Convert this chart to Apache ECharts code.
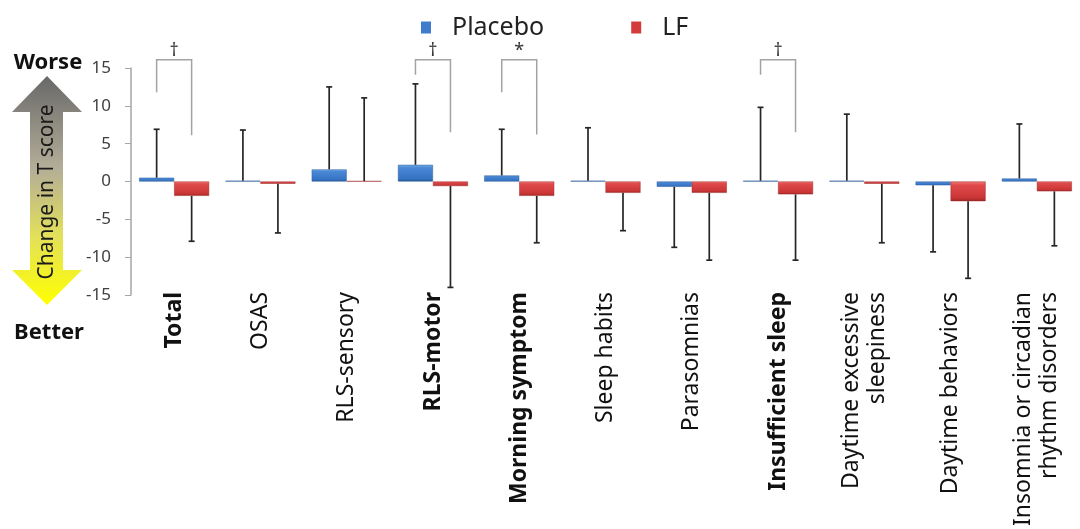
<!DOCTYPE html>
<html>
<head>
<meta charset="utf-8">
<title>Change in T score</title>
<script src="https://cdn.jsdelivr.net/npm/echarts@6/dist/echarts.min.js"></script>
<style>
	html, body { margin: 0; padding: 0; background: #fff; }
	#chart { width: 1080px; height: 529px; }
</style>
</head>
<body>
<div id="chart"></div>
<script>
	var categories = ['Total', 'OSAS', 'RLS-sensory', 'RLS-motor', 'Morning symptom', 'Sleep habits',
		'Parasomnias', 'Insufficient sleep', 'Daytime excessive\nsleepiness', 'Daytime behaviors',
		'Insomnia or circadian\nrhythm disorders'];
	var boldCats = ['Total', 'RLS-motor', 'Morning symptom', 'Insufficient sleep'];

	// mean change in T score and SD (error bar length)
	var placeboMean = [0.5, 0.1, 1.6, 2.2, 0.8, 0.1, -0.7, 0.1, 0.1, -0.5, 0.4];
	var placeboSD = [6.4, 6.7, 10.9, 10.7, 6.1, 7.0, 8.0, 9.7, 8.8, 8.8, 7.2];
	var lfMean = [-1.9, -0.3, 0.05, -0.6, -1.9, -1.5, -1.5, -1.7, -0.3, -2.6, -1.3];
	var lfSD = [6.0, 6.5, 11.0, 13.4, 6.2, 5.0, 8.9, 8.7, 7.8, 10.2, 7.2];

	// significance brackets: category index, mark, left leg end, right leg end, top
	var sigIndex = [0, 3, 4, 7];
	var sigMark = ['†', '†', '*', '†'];
	var sigLeft = [11.8, 14.1, 11.8, 14.1];
	var sigRight = [6.1, 6.5, 6.2, 6.5];
	var sigTop = [16.1, 16.1, 16.1, 16.1];

	var yTicks = { min: -15, max: 15, interval: 5 };

	var FONT = 'Noto Sans';
	var BAR_W = 35;

	var blueFill = new echarts.graphic.LinearGradient(0, 0, 0, 1, [
		{ offset: 0, color: '#74aae8' },
		{ offset: 0.18, color: '#4a88d6' },
		{ offset: 0.85, color: '#3572c2' },
		{ offset: 1, color: '#24538f' }
	]);
	var redFill = new echarts.graphic.LinearGradient(0, 0, 0, 1, [
		{ offset: 0, color: '#f07c7c' },
		{ offset: 0.18, color: '#e04a4a' },
		{ offset: 0.85, color: '#c93434' },
		{ offset: 1, color: '#942424' }
	]);

	function errRender(offset) {
		return function(params, api) {
			var i = api.value(0), m = api.value(1), s = api.value(2);
			var end = m >= 0 ? m + s : m - s;
			var p0 = api.coord([i, m]);
			var p1 = api.coord([i, end]);
			var x = p0[0] + offset;
			var st = { stroke: '#262626', lineWidth: 1.7 };
			return {
				type: 'group',
				children: [
					{ type: 'line', shape: { x1: x, y1: p0[1], x2: x, y2: p1[1] }, style: st },
					{ type: 'line', shape: { x1: x - 3, y1: p1[1], x2: x + 3, y2: p1[1] }, style: st }
				]
			};
		};
	}

	function sigRender(params, api) {
		var i = api.value(0);
		var xc = api.coord([i, 0])[0];
		var xl = xc - BAR_W / 2, xr = xc + BAR_W / 2;
		var yl = api.coord([i, api.value(1)])[1];
		var yr = api.coord([i, api.value(2)])[1];
		var yt = api.coord([i, api.value(3)])[1];
		return {
			type: 'group',
			children: [
				{ type: 'polyline', shape: { points: [[xl, yl], [xl, yt], [xr, yt], [xr, yr]] },
					style: { stroke: '#a3a3a3', lineWidth: 1.5, fill: null } },
				{ type: 'text', x: xc, y: yt,
					style: { text: sigMark[params.dataIndex], fontSize: 18, fontFamily: FONT,
						fill: '#333', align: 'center', verticalAlign: 'bottom' } }
			]
		};
	}

	var chart = echarts.init(document.getElementById('chart'));

	var option = {
		animation: false,
		textStyle: { fontFamily: FONT },
		legend: {
			left: 416,
			top: 10,
			icon: 'rect',
			itemWidth: 10,
			itemHeight: 12,
			itemGap: 87,
			textStyle: { fontSize: 25, color: '#222', fontFamily: FONT, padding: [0, 0, 0, 16] },
			data: [
				{ name: 'Placebo', itemStyle: { color: '#3f7ccb', borderWidth: 0 } },
				{ name: 'LF', itemStyle: { color: '#d43c3c', borderWidth: 0 } }
			]
		},
		grid: { left: 131, top: 68, width: 958, bottom: 234 },
		xAxis: {
			type: 'category',
			data: categories.map(function(c) {
				return boldCats.indexOf(c) >= 0 ? { value: c, textStyle: { fontWeight: 'bold' } } : c;
			}),
			axisLine: { show: false, onZero: false },
			axisTick: { show: false },
			axisLabel: {
				interval: 0, rotate: 90, margin: -3,
				fontSize: 23, lineHeight: 26, color: '#111', fontFamily: FONT
			}
		},
		yAxis: {
			type: 'value',
			min: yTicks.min, max: yTicks.max, interval: yTicks.interval,
			splitLine: { show: false },
			axisLine: { show: true, lineStyle: { color: '#a6a6a6', width: 1.5 } },
			axisTick: { show: true, length: 6, lineStyle: { color: '#a6a6a6' } },
			axisLabel: { fontSize: 17, color: '#404040', margin: 20, fontFamily: FONT }
		},
		series: [
			{
				name: 'Placebo', type: 'bar', data: placeboMean,
				barWidth: BAR_W, barGap: '0%',
				itemStyle: { color: blueFill, borderColor: '#2c5f9e', borderWidth: 0.5 }
			},
			{
				name: 'LF', type: 'bar', data: lfMean,
				barWidth: BAR_W, barGap: '0%',
				itemStyle: { color: redFill, borderColor: '#a02a2a', borderWidth: 0.5 }
			},
			{
				type: 'custom', renderItem: errRender(-BAR_W / 2), z: 3, clip: false,
				encode: { x: 0, y: 1 },
				data: placeboMean.map(function(v, i) { return [i, v, placeboSD[i]]; })
			},
			{
				type: 'custom', renderItem: errRender(BAR_W / 2), z: 3, clip: false,
				encode: { x: 0, y: 1 },
				data: lfMean.map(function(v, i) { return [i, v, lfSD[i]]; })
			},
			{
				type: 'custom', renderItem: sigRender, z: 4, clip: false,
				encode: { x: 0, y: 1 },
				data: sigIndex.map(function(c, k) { return [c, sigLeft[k], sigRight[k], sigTop[k]]; })
			}
		],
		graphic: [
			{
				type: 'polygon',
				shape: { points: [[47, 76], [82, 112], [63, 112], [63, 270], [82, 270], [47, 305],
					[12, 270], [30, 270], [30, 112], [12, 112]] },
				style: {
					fill: new echarts.graphic.LinearGradient(0, 0, 0, 1, [
						{ offset: 0, color: '#686868' },
						{ offset: 0.4, color: '#b3ad98' },
						{ offset: 0.7, color: '#e3e05a' },
						{ offset: 1, color: '#ffff00' }
					]),
					stroke: null
				}
			},
			{
				type: 'text', x: 47, y: 192, rotation: Math.PI / 2,
				style: { text: 'Change in T score', fontSize: 21, fontFamily: FONT, fill: '#1a1a1a',
					align: 'center', verticalAlign: 'middle' }
			},
			{
				type: 'text', x: 48, y: 63,
				style: { text: 'Worse', fontSize: 22, fontWeight: 'bold', fontFamily: FONT, fill: '#111',
					align: 'center', verticalAlign: 'middle' }
			},
			{
				type: 'text', x: 49, y: 333,
				style: { text: 'Better', fontSize: 22, fontWeight: 'bold', fontFamily: FONT, fill: '#111',
					align: 'center', verticalAlign: 'middle' }
			}
		]
	};

	chart.setOption(option);
</script>
</body>
</html>
